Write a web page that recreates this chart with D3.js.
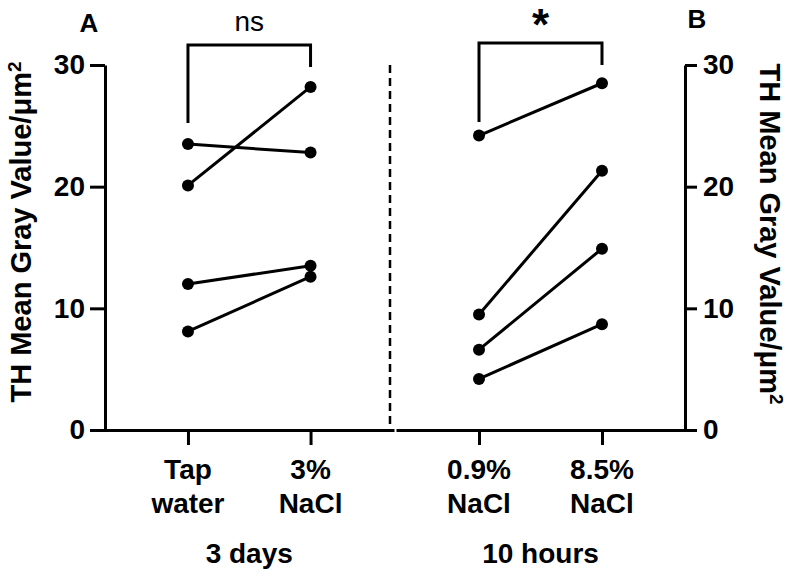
<!DOCTYPE html>
<html>
<head>
<meta charset="utf-8">
<script src="https://cdn.jsdelivr.net/npm/d3@7"></script>
<style>
  body { margin: 0; background: #fff; }
  text { font-family: "Liberation Sans", Arial, sans-serif; fill: #000; }
</style>
</head>
<body>
<div id="chart"></div>
<script>
// data
var leftCats = ["Tap water", "3% NaCl"];
var rightCats = ["0.9% NaCl", "8.5% NaCl"];
var leftLabels = [["Tap", "water"], ["3%", "NaCl"]];
var rightLabels = [["0.9%", "NaCl"], ["8.5%", "NaCl"]];
var groupLabels = ["3 days", "10 hours"];
var sigLabels = ["ns", "*"];
var yTicks = [0, 10, 20, 30];

// paired values (before, after) per animal
var leftPairs = [[23.5, 22.8], [20.1, 28.2], [12.0, 13.5], [8.1, 12.6]];
var rightPairs = [[24.2, 28.5], [9.5, 21.3], [6.6, 14.9], [4.2, 8.7]];

var width = 792, height = 577;

var svg = d3.select("#chart").append("svg")
    .attr("width", width)
    .attr("height", height);

// scales
var y = d3.scaleLinear().domain([0, 30]).range([430, 65]);

var xL = d3.scalePoint().domain(leftCats)
    .range([90, 394]).padding(0.74).align(0.54);
var xR = d3.scalePoint().domain(rightCats)
    .range([396, 685]).padding(0.675).align(0.5);

function styleAxis(g) {
  g.selectAll("path, line").attr("stroke", "#000").attr("stroke-width", 3);
  g.selectAll("text")
      .style("font-family", "'Liberation Sans', Arial, sans-serif")
      .style("font-size", "28px")
      .style("font-weight", "bold")
      .attr("fill", "#000");
}

// y axes
svg.append("g")
    .attr("transform", "translate(105,0)")
    .call(d3.axisLeft(y).tickValues(yTicks).tickSize(15).tickSizeOuter(0).tickPadding(5))
    .call(styleAxis);

svg.append("g")
    .attr("transform", "translate(685,0)")
    .call(d3.axisRight(y).tickValues(yTicks).tickSize(12).tickSizeOuter(0).tickPadding(6))
    .call(styleAxis);

// x axes
svg.append("g")
    .attr("transform", "translate(0," + y(0) + ")")
    .call(d3.axisBottom(xL).tickSize(15).tickSizeOuter(0).tickFormat(""))
    .call(styleAxis);

svg.append("g")
    .attr("transform", "translate(0," + y(0) + ")")
    .call(d3.axisBottom(xR).tickSize(15).tickSizeOuter(0).tickFormat(""))
    .call(styleAxis);

// dashed divider
svg.append("line")
    .attr("x1", 390).attr("x2", 390)
    .attr("y1", y(30)).attr("y2", y(0) - 4)
    .attr("stroke", "#000")
    .attr("stroke-width", 2.5)
    .attr("stroke-dasharray", "8,5");

// paired lines + dots
function drawPairs(pairs, x, cats) {
  var g = svg.append("g");
  g.selectAll(".pair")
      .data(pairs)
    .enter().append("line")
      .attr("class", "pair")
      .attr("x1", x(cats[0]))
      .attr("x2", x(cats[1]))
      .attr("y1", function(d) { return y(d[0]); })
      .attr("y2", function(d) { return y(d[1]); })
      .attr("stroke", "#000")
      .attr("stroke-width", 3);

  var pts = [];
  pairs.forEach(function(d) {
    pts.push({c: cats[0], v: d[0]});
    pts.push({c: cats[1], v: d[1]});
  });
  g.selectAll(".dot")
      .data(pts)
    .enter().append("circle")
      .attr("class", "dot")
      .attr("cx", function(d) { return x(d.c); })
      .attr("cy", function(d) { return y(d.v); })
      .attr("r", 6)
      .attr("fill", "#000");
}
drawPairs(leftPairs, xL, leftCats);
drawPairs(rightPairs, xR, rightCats);

// category labels
function drawCatLabels(labels, x, cats) {
  labels.forEach(function(lines, i) {
    var t = svg.append("text")
        .attr("text-anchor", "middle")
        .style("font-size", "28px")
        .style("font-weight", "bold");
    lines.forEach(function(s, j) {
      t.append("tspan")
          .attr("x", x(cats[i]))
          .attr("y", 479 + j * 34)
          .text(s);
    });
  });
}
drawCatLabels(leftLabels, xL, leftCats);
drawCatLabels(rightLabels, xR, rightCats);

// group labels
[[xL, leftCats], [xR, rightCats]].forEach(function(p, i) {
  var mid = (p[0](p[1][0]) + p[0](p[1][1])) / 2;
  svg.append("text")
      .attr("x", mid)
      .attr("y", 563)
      .attr("text-anchor", "middle")
      .style("font-size", "28px")
      .style("font-weight", "bold")
      .text(groupLabels[i]);
});

// significance brackets
function bracket(x, cats, top, leftEnd, rightEnd, label, big) {
  var x1 = x(cats[0]), x2 = x(cats[1]);
  svg.append("path")
      .attr("d", "M" + x1 + "," + leftEnd + "V" + top + "H" + x2 + "V" + rightEnd)
      .attr("fill", "none")
      .attr("stroke", "#000")
      .attr("stroke-width", 3);
  svg.append("text")
      .attr("x", (x1 + x2) / 2)
      .attr("y", big ? 40 : 31)
      .attr("text-anchor", "middle")
      .style("font-size", big ? "44px" : "28px")
      .style("font-weight", big ? "bold" : "normal")
      .text(label);
}
bracket(xL, leftCats, 45, 123, 67, sigLabels[0], false);
bracket(xR, rightCats, 43, 122, 65, sigLabels[1], true);

// panel letters
svg.append("text").attr("x", 89).attr("y", 32)
    .attr("text-anchor", "middle")
    .style("font-size", "26px").style("font-weight", "bold").text("A");
svg.append("text").attr("x", 697).attr("y", 28)
    .attr("text-anchor", "middle")
    .style("font-size", "26px").style("font-weight", "bold").text("B");

// axis titles
function yTitle(tx, ty, rot) {
  var t = svg.append("text")
      .attr("transform", "translate(" + tx + "," + ty + ") rotate(" + rot + ")")
      .attr("text-anchor", "middle")
      .style("font-size", "29px")
      .style("font-weight", "bold");
  t.append("tspan").text("TH Mean Gray Value/\u03bcm");
  t.append("tspan").attr("dy", "-0.55em").style("font-size", "19px").text("2");
}
yTitle(31, 232, -90);
yTitle(760, 234, 90);
</script>
</body>
</html>
